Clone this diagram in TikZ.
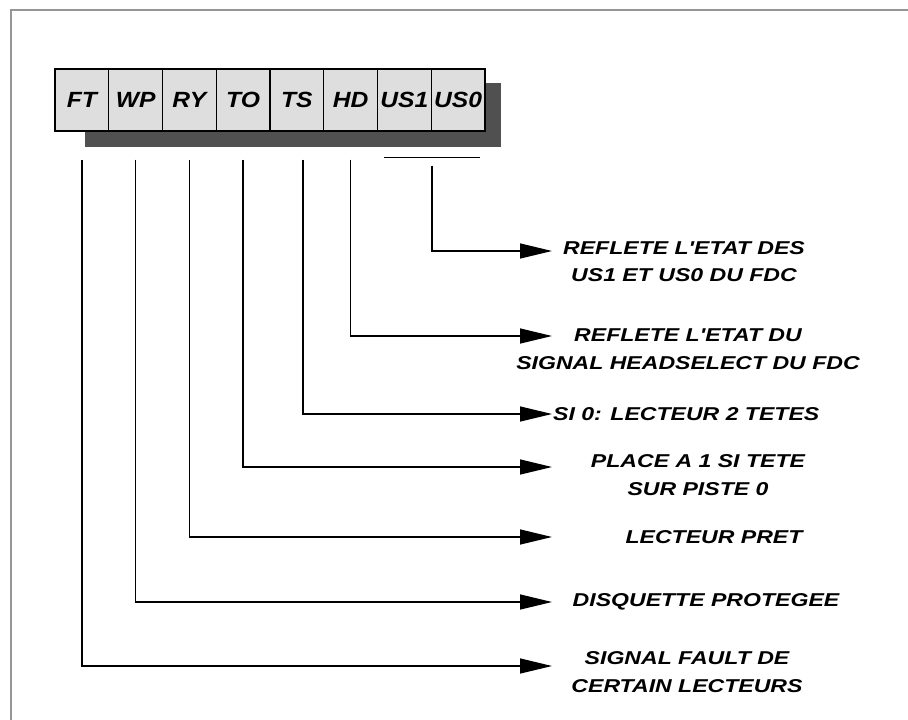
\documentclass[tikz,border=0pt]{standalone}
\usepackage{fontspec}
\usepackage{tikz}
\usetikzlibrary{arrows.meta, calc}
\newfontfamily\regfont[FakeStretch=1.12]{Liberation Sans}
\newfontfamily\descfont[FakeStretch=1.24]{Liberation Sans}
\definecolor{cellgray}{RGB}{222,222,222}
\definecolor{shadowgray}{RGB}{80,80,80}
\definecolor{framegray}{RGB}{150,150,150}
\tikzset{
    % register cells
    cell/.style={rectangle, draw=black, line width=1.1pt, fill=cellgray,
                minimum width=53.75pt, minimum height=62pt, inner sep=0pt,
                font=\regfont\bfseries\itshape\fontsize{22}{24}\selectfont},
    % links to descriptions
    link/.style={line width=1.4pt, -{Triangle[length=32pt, width=15pt]}},
    bar/.style={line width=1.4pt},
    desc/.style={align=center, inner sep=0pt,
                font=\descfont\bfseries\itshape\fontsize{18.6}{27.5}\selectfont},
}
\begin{document}
\begin{tikzpicture}[x=1pt, y=-1pt]
\useasboundingbox (0,0) rectangle (908,720);
% frame
\draw[framegray, line width=1.2pt] (11,720) -- (11,10) -- (908,10);

% register with shadow
\fill[shadowgray] (85,83) rectangle (501,147);
\foreach \lbl [count=\i] in {FT,WP,RY,TO,TS,HD,US1,US0}
    \node[cell] (c-\lbl) at ({55+53.75*(\i-0.5)},100) {\lbl};

% descriptions
\node[desc] (d-US) at (684,261.5) {REFLETE L'ETAT DES\\US1 ET US0 DU FDC};
\node[desc] (d-HD) at (688,349) {REFLETE L'ETAT DU\\SIGNAL HEADSELECT DU FDC};
\node[desc, anchor=west] (d-TS) at (553,414) {SI 0: LECTEUR 2 TETES};
\node[desc] (d-TO) at (698,475) {PLACE A 1 SI TETE\\SUR PISTE 0};
\node[desc] (d-RY) at (714,537) {LECTEUR PRET};
\node[desc] (d-WP) at (706,602) {DISQUETTE PROTEGEE};
\node[desc] (d-FT) at (687,672) {SIGNAL FAULT DE\\CERTAIN LECTEURS};

% arrow tips
\coordinate (t-US) at (552,251);
\coordinate (t-HD) at (552,336);
\coordinate (t-TS) at (552,414);
\coordinate (t-TO) at (552,467);
\coordinate (t-RY) at (552,537);
\coordinate (t-WP) at (552,602);
\coordinate (t-FT) at (552,666);

% connectors
\draw[bar] ($(c-US1.south west)+(7,26)$) -- ($(c-US0.south east)+(-6,26)$);
\draw[link, shorten <=34pt] (c-US1.south east) |- (t-US);
\draw[link, shorten <=28pt] ([xshift=6pt]c-TS.south) |- (t-TS);
\foreach \lbl in {HD,TO,RY,WP,FT}
    \draw[link, shorten <=28pt] (c-\lbl.south) |- (t-\lbl);
\end{tikzpicture}
\end{document}
